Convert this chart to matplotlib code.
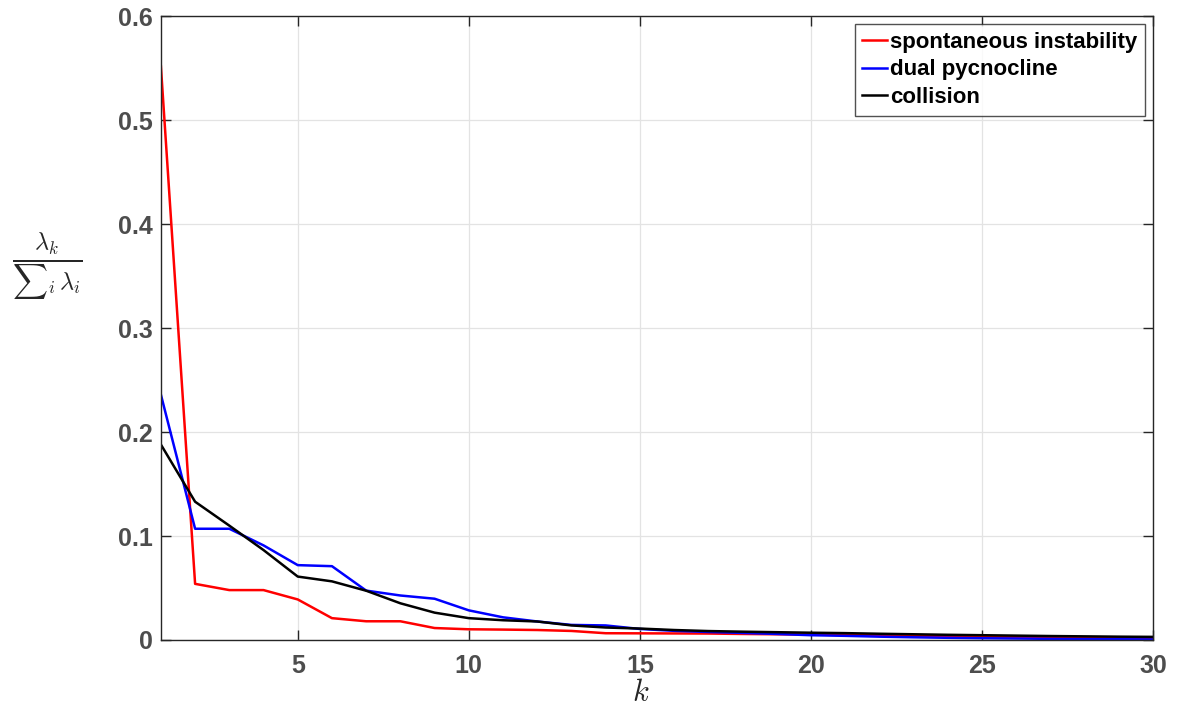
import numpy as np
import matplotlib
matplotlib.use("Agg")
from matplotlib import pyplot as plt

plt.rcParams['font.family'] = ['Liberation Sans', 'DejaVu Sans']
plt.rcParams['mathtext.fontset'] = 'cm'

k = np.arange(1, 31)

spontaneous = [0.552, 0.054, 0.048, 0.048, 0.039, 0.021, 0.018, 0.018, 0.0115, 0.0103,
               0.0100, 0.0096, 0.0087, 0.0065, 0.0064, 0.0063, 0.0062, 0.0058, 0.0055, 0.0052,
               0.0048, 0.0044, 0.0040, 0.0036, 0.0033, 0.0030, 0.0027, 0.0024, 0.0022, 0.0020]
dual = [0.236, 0.107, 0.107, 0.091, 0.072, 0.071, 0.0475, 0.0428, 0.0397, 0.0285,
        0.0218, 0.0178, 0.0145, 0.0140, 0.0106, 0.0088, 0.0077, 0.0068, 0.0058, 0.0046,
        0.0040, 0.0032, 0.0026, 0.0021, 0.0017, 0.0014, 0.0011, 0.0009, 0.0007, 0.0005]
collision = [0.188, 0.133, 0.110, 0.0865, 0.061, 0.0564, 0.0474, 0.0353, 0.0263, 0.021,
             0.0190, 0.0178, 0.0140, 0.0120, 0.0110, 0.0096, 0.0086, 0.0080, 0.0075, 0.0070,
             0.0066, 0.0060, 0.0055, 0.0050, 0.0046, 0.0042, 0.0038, 0.0035, 0.0032, 0.0030]

fig = plt.figure(figsize=(11.83, 7.06), dpi=100)
ax = fig.add_axes([0.136, 0.0935, 0.8387, 0.8835])

ax.plot(k, spontaneous, color='red', lw=1.8, label='spontaneous instability')
ax.plot(k, dual, color='blue', lw=1.8, label='dual pycnocline')
ax.plot(k, collision, color='black', lw=1.8, label='collision')

ax.set_xlim(1, 30)
ax.set_ylim(0, 0.6)
ax.set_xticks([5, 10, 15, 20, 25, 30])
ax.set_yticks(np.arange(0, 0.61, 0.1))
ax.set_yticklabels(['0', '0.1', '0.2', '0.3', '0.4', '0.5', '0.6'])
ax.grid(True, color='#e3e3e3', lw=0.9)
ax.set_axisbelow(True)
ax.tick_params(direction='in', length=7, width=1, color='#262626',
               labelcolor='#4d4d4d', labelsize=18, top=True, right=True)
ax.tick_params(axis='x', pad=10)
ax.tick_params(axis='y', pad=6)
for lbl in ax.get_xticklabels() + ax.get_yticklabels():
    lbl.set_fontweight('bold')
for s in ax.spines.values():
    s.set_color('#262626')
    s.set_linewidth(1)

ax.set_xlabel('$k$', fontsize=22, color='#262626', va='center')
ax.xaxis.set_label_coords(0.484, -0.085)
ax.set_ylabel(r'$\frac{\lambda_k}{{\sum}_i\, \lambda_i}$', fontsize=25, rotation=0,
              color='#262626', va='center', ha='center')
ax.yaxis.set_label_coords(-0.114, 0.598)

leg = ax.legend(loc='upper right', prop={'weight': 'bold', 'size': 16},
                frameon=True, fancybox=False, borderpad=0.35, handlelength=1.1,
                handletextpad=0.15, labelspacing=0.3, borderaxespad=0.35)
leg.get_frame().set_edgecolor('#262626')
leg.get_frame().set_linewidth(1)

fig.savefig('out.png', dpi=100)
